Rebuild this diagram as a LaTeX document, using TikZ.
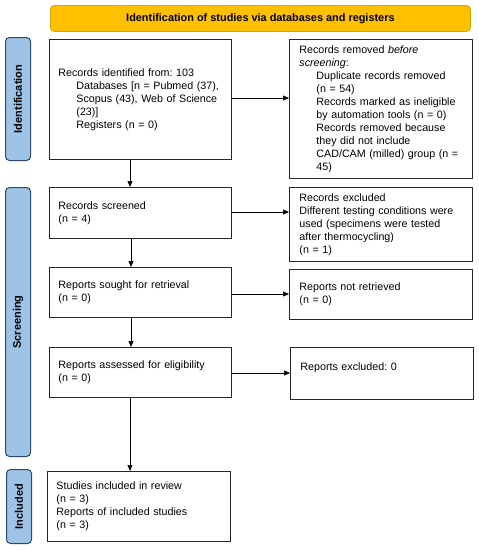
\documentclass[tikz,border=0pt]{standalone}
\usepackage{fontspec}
\setmainfont{Liberation Sans}
\usetikzlibrary{arrows.meta}
\definecolor{barfill}{HTML}{FFC000}
\definecolor{barline}{HTML}{D9A300}
\definecolor{sidefill}{HTML}{9DC3E6}
\definecolor{sideline}{HTML}{2E4A66}
\frenchspacing
\begin{document}
\frenchspacing
\begin{tikzpicture}[x=1pt,y=-1pt,
  every node/.style={font=\fontsize{10.7}{13}\selectfont},
  box/.style={draw=black!85,line width=0.9pt,fill=white,inner xsep=9pt,inner ysep=0pt,align=left,anchor=north west},
  sidelbl/.style={draw=sideline,fill=sidefill,line width=1pt,rounded corners=4pt,anchor=north west,inner sep=0pt},
  sidetxt/.style={rotate=90,font=\bfseries\fontsize{11}{13}\selectfont},
  conn/.style={-{Triangle[length=6pt,width=5pt]},line width=0.6pt,black}]
\useasboundingbox (0,0) rectangle (479,550);
\fill[white] (0,0) rectangle (479,550);
% top bar
\node[draw=barline,fill=barfill,line width=0.8pt,rounded corners=4pt,minimum width=420pt,minimum height=26pt,inner sep=0pt,anchor=north west,font=\bfseries\fontsize{10.9}{13}\selectfont] (bar) at (50,5) {Identification of studies via databases and registers};
% side labels
\node[sidelbl,minimum width=25pt,minimum height=123pt] (sid) at (5,37) {};
\node[sidetxt] (tid) at (sid.center) {Identification};
\node[sidelbl,minimum width=25pt,minimum height=269pt] (sscr) at (5,187) {};
\node[sidetxt] (tscr) at (sscr.center) {Screening};
\node[sidelbl,minimum width=25pt,minimum height=74pt] (sinc) at (6,469) {};
\node[sidetxt] (tinc) at (sinc.center) {Included};
% left boxes
\node[box,minimum width=182pt,minimum height=120pt,text width=164pt] (b1) at (49,39) {Records identified from: 103\\
\mbox{\hspace*{18pt}Databases [n = Pubmed (37),}\\
\mbox{\hspace*{18pt}Scopus (43), Web of Science}\\
\hspace*{18pt}(23)]\\
\hspace*{18pt}Registers (n = 0)};
\node[box,minimum width=182pt,minimum height=51pt,text width=164pt] (b2) at (49,187) {Records screened\\(n = 4)};
\node[box,minimum width=182pt,minimum height=50pt,text width=164pt] (b3) at (49,267) {Reports sought for retrieval\\(n = 0)};
\node[box,minimum width=182pt,minimum height=50pt,text width=164pt] (b4) at (49,347) {Reports assessed for eligibility\\(n = 0)};
\node[box,minimum width=183pt,minimum height=70pt,text width=165pt] (b5) at (47,471) {Studies included in review\\(n = 3)\\Reports of included studies\\(n = 3)};
% right boxes
\node[box,inner xsep=10pt,minimum width=183pt,minimum height=139pt,text width=163pt] (r1) at (289,39) {Records removed \textit{before}\\
\textit{screening}:\\
\mbox{\hspace*{17pt}Duplicate records removed}\\
\hspace*{17pt}(n = 54)\\
\mbox{\hspace*{17pt}Records marked as ineligible}\\
\mbox{\hspace*{17pt}by automation tools (n = 0)}\\
\mbox{\hspace*{17pt}Records removed because}\\
\mbox{\hspace*{17pt}they did not include}\\
\mbox{\hspace*{17pt}CAD/CAM (milled) group (n =}\\
\hspace*{17pt}45)};
\node[box,inner xsep=10pt,minimum width=183pt,minimum height=74pt,text width=163pt] (r2) at (289,187) {Records excluded\\\mbox{Different testing conditions were}\\\mbox{used (specimens were tested}\\after thermocycling)\\(n = 1)};
\node[box,inner xsep=10pt,minimum width=183pt,minimum height=50pt,text width=163pt] (r3) at (289,269) {Reports not retrieved\\(n = 0)};
\node[box,inner xsep=10pt,minimum width=183pt,minimum height=52pt,text width=163pt] (r4) at (290,347) {Reports excluded: 0\\\mbox{}};
% connectors
\draw[conn] (b1.east |- 0,98) -- (r1.west |- 0,98);
\draw[conn] (b2.east |- 0,212) -- (r2.west |- 0,212);
\draw[conn] (b3.east |- 0,294) -- (r3.west |- 0,294);
\draw[conn] (b4.east |- 0,373) -- (r4.west |- 0,373);
\draw[conn] (b1.south -| 130,0) -- (b2.north -| 130,0);
\draw[conn] (b2.south -| 131,0) -- (b3.north -| 131,0);
\draw[conn] (b3.south -| 131,0) -- (b4.north -| 131,0);
\draw[conn] (b4.south -| 130,0) -- (b5.north -| 130,0);
\end{tikzpicture}
\end{document}
